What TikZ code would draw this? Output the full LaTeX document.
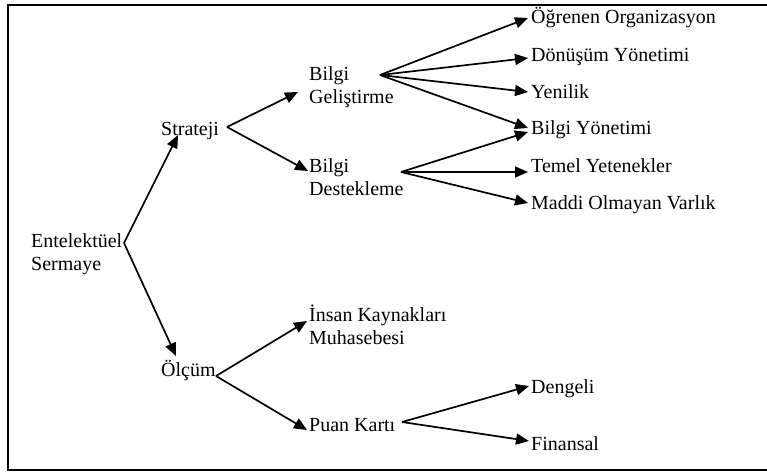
\documentclass[tikz,border=0pt]{standalone}
\usepackage{fontspec}
\setmainfont{Liberation Serif}
\usetikzlibrary{arrows.meta}
\begin{document}
\begin{tikzpicture}[x=1pt,y=-1pt,
  lbl/.style={anchor=base west,inner sep=0pt,align=left,font=\fontsize{20}{23}\selectfont},
  arr/.style={line width=1.7pt,-{Triangle[length=13pt,width=11pt]}},
  frame/.style={line width=1.6pt}]
\useasboundingbox (0,0) rectangle (767,472);
\draw[frame] (767,5) -- (8,5) -- (8,470) -- (767,470);
% nodes (base = baseline of last line)
\node[lbl] (ent) at (31,270) {Entelektüel\\Sermaye};
\node[lbl] (str) at (161,135) {Strateji};
\node[lbl] (olc) at (161,376) {Ölçüm};
\node[lbl] (bg) at (309,103) {Bilgi\\Geliştirme};
\node[lbl] (bd) at (309,195) {Bilgi\\Destekleme};
\node[lbl] (ik) at (309,344) {İnsan Kaynakları\\Muhasebesi};
\node[lbl] (pk) at (309,431) {Puan Kartı};
\node[lbl] (og) at (531,23) {Öğrenen Organizasyon};
\node[lbl] (dy) at (531,61) {Dönüşüm Yönetimi};
\node[lbl] (ye) at (531,98) {Yenilik};
\node[lbl] (by) at (531,134) {Bilgi Yönetimi};
\node[lbl] (ty) at (531,172) {Temel Yetenekler};
\node[lbl] (mo) at (531,209) {Maddi Olmayan Varlık};
\node[lbl] (de) at (531,393) {Dengeli};
\node[lbl] (fi) at (531,450) {Finansal};
% connector ends
\coordinate (entO) at (124,243);
\coordinate (strI) at (178,135);
\coordinate (olcI) at (176,356);
\coordinate (strO) at (227,127);
\coordinate (bgI) at (298,92);
\coordinate (bdI) at (308,171);
\coordinate (olcO) at (216,376);
\coordinate (ikI) at (307,321);
\coordinate (pkI) at (307,430);
\coordinate (bgO) at (380,75);
\coordinate (bdO) at (401,172);
\coordinate (pkO) at (402,422);
\coordinate (ogI) at (528,18);
\coordinate (dyI) at (528,58);
\coordinate (yeI) at (528,92);
\coordinate (byI1) at (528,128);
\coordinate (byI2) at (528,132);
\coordinate (tyI) at (528,172);
\coordinate (moI) at (528,203);
\coordinate (deI) at (529,386);
\coordinate (fiI) at (529,441);
% connectors
\draw[arr] (entO) -- (strI);
\draw[arr] (entO) -- (olcI);
\draw[arr] (strO) -- (bgI);
\draw[arr] (strO) -- (bdI);
\draw[arr] (olcO) -- (ikI);
\draw[arr] (olcO) -- (pkI);
\draw[arr] (bgO) -- (ogI);
\draw[arr] (bgO) -- (dyI);
\draw[arr] (bgO) -- (yeI);
\draw[arr] (bgO) -- (byI1);
\draw[arr] (bdO) -- (byI2);
\draw[arr] (bdO) -- (tyI);
\draw[arr] (bdO) -- (moI);
\draw[arr] (pkO) -- (deI);
\draw[arr] (pkO) -- (fiI);
\end{tikzpicture}
\end{document}
